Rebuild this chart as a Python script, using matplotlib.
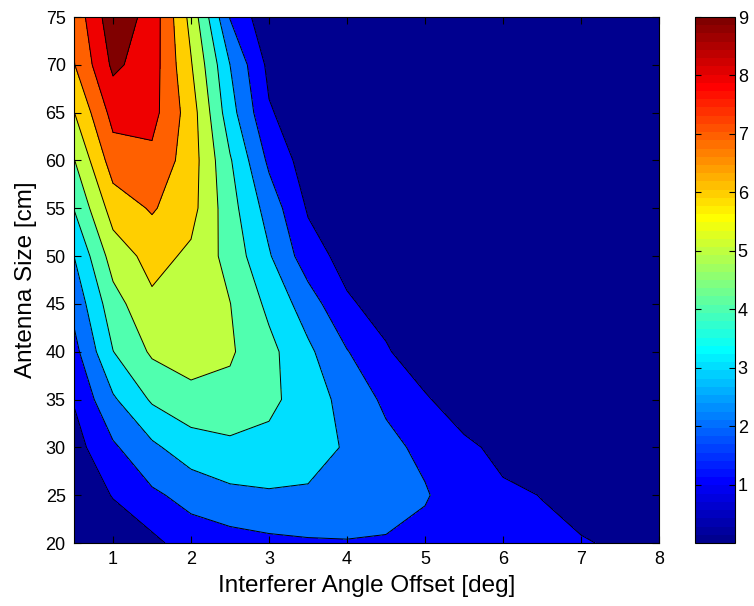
import numpy as np
import matplotlib
matplotlib.use('Agg')
import matplotlib.pyplot as plt
from matplotlib.colors import ListedColormap, Normalize
from matplotlib.cm import ScalarMappable

plt.rcParams['font.family'] = ['Liberation Sans', 'DejaVu Sans']

# grid of the measurement
angle_deg = [0.5, 1.0, 1.5, 2.0, 2.5, 3.0, 3.5, 4.0, 4.5, 5.0, 5.5, 6.0, 6.5, 7.0, 7.5, 8.0]
size_cm = [20, 25, 30, 35, 40, 45, 50, 55, 60, 65, 70, 75]

# values per antenna size (row), one per angle offset
z_20 = [0.10, 0.40, 0.75, 1.50, 1.60, 1.78, 1.89, 1.93, 1.87, 1.65, 1.45, 1.30, 1.18, 1.08, 0.86, 0.60]
z_25 = [0.30, 1.05, 1.83, 2.32, 2.76, 2.89, 2.86, 2.80, 2.60, 2.10, 1.35, 1.15, 0.98, 0.60, 0.35, 0.20]
z_30 = [0.60, 1.85, 2.80, 3.57, 3.77, 3.70, 3.45, 2.89, 2.29, 1.74, 1.20, 0.75, 0.30, 0.15, 0.10, 0.05]
z_35 = [1.07, 2.86, 4.13, 4.60, 4.72, 4.25, 3.47, 2.68, 1.80, 1.11, 0.46, 0.22, 0.10, 0.06, 0.04, 0.03]
z_40 = [1.68, 3.98, 5.15, 5.58, 5.12, 4.28, 3.20, 2.05, 1.10, 0.40, 0.25, 0.15, 0.08, 0.05, 0.03, 0.02]
z_45 = [2.30, 4.60, 5.80, 5.60, 5.02, 3.77, 2.49, 1.13, 0.64, 0.30, 0.15, 0.10, 0.06, 0.04, 0.03, 0.02]
z_50 = [3.00, 5.45, 6.35, 5.81, 4.65, 3.10, 1.43, 0.66, 0.30, 0.18, 0.10, 0.07, 0.05, 0.03, 0.02, 0.02]
z_55 = [4.03, 6.45, 7.10, 6.35, 4.40, 2.58, 0.90, 0.35, 0.18, 0.12, 0.08, 0.05, 0.04, 0.03, 0.02, 0.01]
z_60 = [4.95, 7.50, 7.75, 6.50, 4.10, 1.80, 0.50, 0.20, 0.12, 0.09, 0.06, 0.04, 0.03, 0.02, 0.02, 0.01]
z_65 = [5.97, 8.35, 8.35, 6.50, 3.40, 1.10, 0.35, 0.15, 0.10, 0.07, 0.05, 0.03, 0.02, 0.02, 0.01, 0.01]
z_70 = [6.95, 9.20, 8.50, 6.08, 3.00, 0.75, 0.25, 0.10, 0.06, 0.05, 0.03, 0.02, 0.02, 0.01, 0.01, 0.01]
z_75 = [7.32, 9.66, 8.62, 5.68, 1.95, 0.22, 0.10, 0.05, 0.04, 0.03, 0.02, 0.02, 0.01, 0.01, 0.01, 0.01]

levels = [0, 1, 2, 3, 4, 5, 6, 7, 8, 9, 10]
cbar_ticks = [1, 2, 3, 4, 5, 6, 7, 8, 9]


def matlab_jet(m=64):
    # same construction as matlab's jet(m)
    n = int(np.ceil(m / 4))
    u = np.concatenate([np.arange(1, n + 1) / n, np.ones(n - 1), np.arange(n, 0, -1) / n])
    g = int(np.ceil(n / 2)) - int(m % 4 == 1) + np.arange(1, len(u) + 1)
    r = g + n
    b = g - n
    g = g[g <= m]
    r = r[r <= m]
    b = b[b >= 1]
    J = np.zeros((m, 3))
    J[r - 1, 0] = u[:len(r)]
    J[g - 1, 1] = u[:len(g)]
    J[b - 1, 2] = u[len(u) - len(b):]
    return J


jet = matlab_jet(64)
cmin, cmax = 0, 9
band_colors = [jet[min(int((lv - cmin) / (cmax - cmin) * 64), 63)] for lv in levels[:-1]]

gain = np.array([z_20, z_25, z_30, z_35, z_40, z_45, z_50, z_55, z_60, z_65, z_70, z_75])

fig = plt.figure(figsize=(7.54, 6.06), dpi=100)
ax = fig.add_axes([74 / 754, 63 / 606, 585 / 754, 526 / 606])
ax.contourf(angle_deg, size_cm, gain, levels=levels, colors=band_colors)
ax.contour(angle_deg, size_cm, gain, levels=levels[1:10], colors='k', linewidths=0.7)

ax.set_xlim(0.5, 8)
ax.set_ylim(20, 75)
ax.set_xticks(range(1, 9))
ax.set_yticks(range(20, 80, 5))
ax.tick_params(direction='in', top=True, right=True, length=5, width=0.8,
               labelsize=13, pad=6)
for s in ax.spines.values():
    s.set_linewidth(0.8)
ax.set_xlabel('Interferer Angle Offset [deg]', fontsize=17.5, labelpad=5)
ax.set_ylabel('Antenna Size [cm]', fontsize=17.5, labelpad=6)

cax = fig.add_axes([695 / 754, 63 / 606, 40 / 754, 526 / 606])
sm = ScalarMappable(norm=Normalize(cmin, cmax), cmap=ListedColormap(jet))
cb = fig.colorbar(sm, cax=cax, ticks=cbar_ticks)
cb.outline.set_linewidth(0.8)
cax.tick_params(direction='in', left=True, right=True, length=4, width=0.8,
                labelsize=13, pad=2)

fig.savefig('out.png', dpi=100)
